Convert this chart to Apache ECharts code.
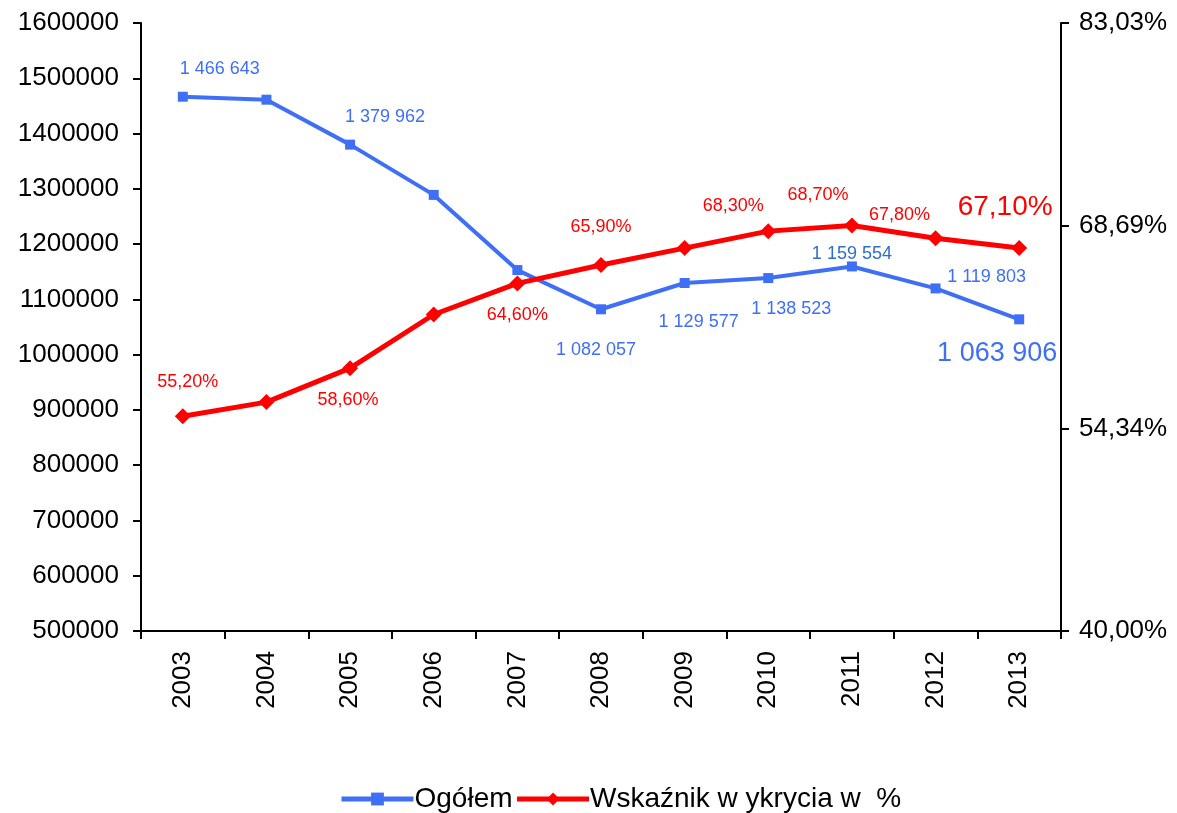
<!DOCTYPE html>
<html>
<head>
<meta charset="utf-8">
<script src="https://cdn.jsdelivr.net/npm/echarts@6/dist/echarts.min.js"></script>
<style>
  html, body { margin: 0; padding: 0; background: #fff; }
  #chart { width: 1177px; height: 813px; }
</style>
</head>
<body>
<div id="chart"></div>
<script>
// lata
var years = ['2003', '2004', '2005', '2006', '2007', '2008', '2009', '2010', '2011', '2012', '2013'];
// przestępstwa stwierdzone ogółem
var ogolem = [1466643, 1461217, 1379962, 1289000, 1153000, 1082057, 1129577, 1138523, 1159554, 1119803, 1063906];
// wskaźnik wykrycia w %
var wskaznik = [55.2, 56.2, 58.6, 62.4, 64.6, 65.9, 67.1, 68.3, 68.7, 67.8, 67.1];
// podziałki prawej osi
var rightTicks = [40, 54.3433, 68.6867, 83.03];

var blue = '#3F6FF5';
var red = '#FF0000';
var font = 'Liberation Sans, Arial, sans-serif';

function spaced (v) {
  return String(v).replace(/\B(?=(\d{3})+(?!\d))/g, ' ');
}
function pct (v) {
  return v.toFixed(2).replace('.', ',') + '%';
}

// pozycje etykiet (przesunięcie względem punktu)
var blueLabels = {
  0: { offset: [37, -28] },
  2: { offset: [35, -28] },
  5: { offset: [-5, 41] },
  6: { offset: [14, 39] },
  7: { offset: [23, 31] },
  8: { offset: [0, -12], color: '#2F6FC8' },
  9: { offset: [51, -11] },
  10: { offset: [-22, 34], fontSize: 27 }
};
var redLabels = {
  0: { offset: [5, -34] },
  2: { offset: [-2, 32] },
  4: { offset: [0, 32] },
  5: { offset: [0, -38] },
  7: { offset: [-35, -25] },
  8: { offset: [-34, -30] },
  9: { offset: [-36, -23] },
  10: { offset: [-14, -41], fontSize: 28 }
};

function buildData (values, labels, fmt, color) {
  return values.map(function (v, i) {
    var l = labels[i];
    if (!l) return { value: v, label: { show: false } };
    return {
      value: v,
      label: {
        show: true,
        position: 'inside',
        offset: l.offset,
        color: l.color || color,
        fontSize: l.fontSize || 18,
        fontFamily: font,
        formatter: function (p) { return fmt(p.value); }
      }
    };
  });
}

var chart = echarts.init(document.getElementById('chart'));

var axisLine = { show: true, lineStyle: { color: '#000', width: 2 } };
var tickStyle = { color: '#000', width: 2 };

var option = {
  animation: false,
  backgroundColor: '#fff',
  grid: { left: 141, right: 116, top: 23, bottom: 182 },
  legend: {
    top: 780,
    left: 334,
    itemWidth: 72,
    itemHeight: 16,
    itemGap: 2,
    lineStyle: { width: 5 },
    textStyle: { fontSize: 28, fontFamily: font, color: '#000', padding: [0, 0, 0, -4] },
    data: ['Ogółem', 'Wskaźnik w ykrycia w  %']
  },
  xAxis: {
    type: 'category',
    data: years,
    boundaryGap: true,
    axisLine: axisLine,
    axisTick: { show: true, length: 8, lineStyle: tickStyle },
    axisLabel: { rotate: 90, fontSize: 26, fontFamily: font, color: '#000', margin: 20 },
    splitLine: { show: false }
  },
  yAxis: [
    {
      type: 'value',
      min: 500000,
      max: 1600000,
      interval: 100000,
      axisLine: axisLine,
      axisTick: { show: true, length: 8, lineStyle: tickStyle },
      axisLabel: { fontSize: 26, fontFamily: font, color: '#000', margin: 22, formatter: function (v) { return String(v); } },
      splitLine: { show: false }
    },
    {
      type: 'value',
      position: 'right',
      min: 40,
      max: 83.03,
      axisLine: axisLine,
      axisTick: { show: true, length: 8, customValues: rightTicks, lineStyle: tickStyle },
      axisLabel: {
        fontSize: 26, fontFamily: font, color: '#000', margin: 18,
        customValues: rightTicks,
        formatter: function (v) { return pct(v); }
      },
      splitLine: { show: false }
    }
  ],
  series: [
    {
      name: 'Ogółem',
      type: 'line',
      yAxisIndex: 0,
      data: buildData(ogolem, blueLabels, spaced, blue),
      symbol: 'rect',
      symbolSize: 10,
      lineStyle: { color: blue, width: 4 },
      itemStyle: { color: blue },
      z: 3
    },
    {
      name: 'Wskaźnik w ykrycia w  %',
      type: 'line',
      yAxisIndex: 1,
      data: buildData(wskaznik, redLabels, pct, red),
      symbol: 'diamond',
      symbolSize: 16,
      lineStyle: { color: red, width: 5 },
      itemStyle: { color: red },
      z: 4
    }
  ]
};

chart.setOption(option);
</script>
</body>
</html>
